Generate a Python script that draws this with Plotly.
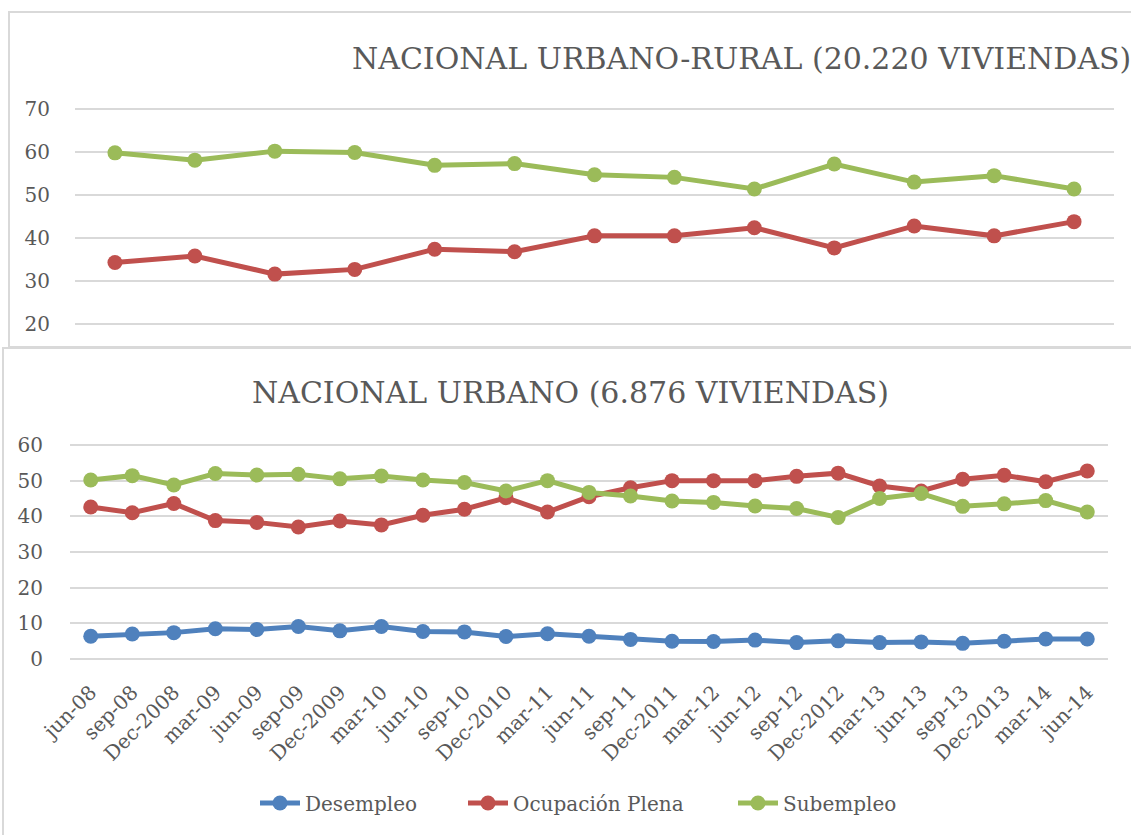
import plotly.graph_objects as go

W, H = 1131, 835

# ---------------- data ----------------
top_categories = ["jun-08", "Dec-2008", "jun-09", "Dec-2009", "jun-10", "Dec-2010",
                  "jun-11", "Dec-2011", "jun-12", "Dec-2012", "jun-13", "Dec-2013", "jun-14"]
top_ocupacion = [34.3, 35.8, 31.6, 32.7, 37.4, 36.8, 40.5, 40.5, 42.4, 37.7, 42.8, 40.5, 43.8]
top_subempleo = [59.8, 58.1, 60.2, 59.9, 56.9, 57.3, 54.7, 54.1, 51.4, 57.2, 53.0, 54.5, 51.4]

categories = ["jun-08", "sep-08", "Dec-2008", "mar-09", "jun-09", "sep-09", "Dec-2009",
              "mar-10", "jun-10", "sep-10", "Dec-2010", "mar-11", "jun-11", "sep-11",
              "Dec-2011", "mar-12", "jun-12", "sep-12", "Dec-2012", "mar-13", "jun-13",
              "sep-13", "Dec-2013", "mar-14", "jun-14"]
desempleo = [6.4, 7.0, 7.4, 8.5, 8.3, 9.1, 7.9, 9.1, 7.7, 7.6, 6.3, 7.1, 6.4, 5.5,
             5.0, 4.9, 5.3, 4.6, 5.1, 4.6, 4.8, 4.4, 5.0, 5.6, 5.6]
ocupacion = [42.6, 41.0, 43.6, 38.8, 38.3, 37.0, 38.7, 37.6, 40.3, 42.0, 45.2, 41.2, 45.5,
             48.0, 50.0, 50.0, 50.0, 51.2, 52.1, 48.5, 47.1, 50.4, 51.5, 49.7, 52.7]
subempleo = [50.2, 51.4, 48.8, 52.0, 51.6, 51.8, 50.5, 51.3, 50.2, 49.5, 47.1, 50.0, 46.7,
             45.7, 44.3, 43.9, 42.9, 42.2, 39.7, 45.0, 46.4, 42.8, 43.5, 44.4, 41.2]

top_title = "NACIONAL URBANO-RURAL (20.220 VIVIENDAS)"
bottom_title = "NACIONAL URBANO (6.876 VIVIENDAS)"
series_names = ["Desempleo", "Ocupación Plena", "Subempleo"]

# ---------------- style ----------------
BLUE, RED, GREEN = "#4F81BD", "#C0504D", "#9BBB59"
TXT = "#595959"
GRID = "#D9D9D9"
FONT = "DejaVu Serif"


def px(x):
    return x / W


def py(y):
    return 1 - y / H


fig = go.Figure()

# top chart traces
fig.add_trace(go.Scatter(x=top_categories, y=top_ocupacion, mode="lines+markers",
                         line=dict(color=RED, width=5), marker=dict(size=15, color=RED),
                         xaxis="x", yaxis="y", showlegend=False, name=series_names[1]))
fig.add_trace(go.Scatter(x=top_categories, y=top_subempleo, mode="lines+markers",
                         line=dict(color=GREEN, width=5), marker=dict(size=15, color=GREEN),
                         xaxis="x", yaxis="y", showlegend=False, name=series_names[2]))

# bottom chart traces, each with its own legend box
for vals, col, name, lg in [(desempleo, BLUE, series_names[0], "legend"),
                            (ocupacion, RED, series_names[1], "legend2"),
                            (subempleo, GREEN, series_names[2], "legend3")]:
    fig.add_trace(go.Scatter(x=categories, y=vals, mode="lines+markers", name=name,
                             line=dict(color=col, width=5), marker=dict(size=15, color=col),
                             xaxis="x2", yaxis="y2", legend=lg))

tickfont = dict(family=FONT, size=20, color=TXT)
legfont = dict(family=FONT, size=20, color=TXT)


def leg(xpix):
    return dict(orientation="h", x=px(xpix), xanchor="left", y=py(803), yanchor="middle",
                font=legfont, bgcolor="rgba(0,0,0,0)", itemwidth=40)


fig.update_layout(
    width=W, height=H, autosize=False,
    margin=dict(l=0, r=0, t=0, b=0, pad=0, autoexpand=False),
    paper_bgcolor="white", plot_bgcolor="rgba(0,0,0,0)",
    font=dict(family=FONT, color=TXT),
    xaxis=dict(domain=[px(75), px(1114)], range=[-0.5, 12.5], type="category",
               showticklabels=False, showgrid=False, zeroline=False, showline=False,
               anchor="y", automargin=False),
    yaxis=dict(domain=[py(328.3), py(104.7)], range=[19, 71], tickvals=[20, 30, 40, 50, 60, 70],
               showgrid=True, gridcolor=GRID, gridwidth=1.5, zeroline=False, showline=False,
               ticks="outside", ticklen=20, tickcolor="rgba(0,0,0,0)",
               tickfont=tickfont, anchor="x", automargin=False),
    xaxis2=dict(domain=[px(70), px(1108)], range=[-0.5, 24.5], type="category",
                tickangle=-45, tickfont=tickfont, showgrid=False, zeroline=False,
                showline=False, ticks="outside", ticklen=9, tickcolor="rgba(0,0,0,0)",
                anchor="y2", automargin=False),
    yaxis2=dict(domain=[py(662.6), py(441.4)], range=[-1, 61], tickvals=[0, 10, 20, 30, 40, 50, 60],
                showgrid=True, gridcolor=GRID, gridwidth=1.5, zeroline=True, zerolinecolor=GRID,
                zerolinewidth=1.5, showline=False, ticks="outside", ticklen=22,
                tickcolor="rgba(0,0,0,0)", tickfont=tickfont, anchor="x2", automargin=False),
    legend=leg(255),
    legend2=leg(463),
    legend3=leg(733),
    shapes=[
        dict(type="rect", xref="paper", yref="paper", x0=px(9), x1=px(1145), y0=py(347), y1=py(12),
             line=dict(color=GRID, width=2), fillcolor="white", layer="below"),
        dict(type="rect", xref="paper", yref="paper", x0=px(3), x1=px(1145), y0=py(845), y1=py(348),
             line=dict(color=GRID, width=2), fillcolor="white", layer="below"),
    ],
    annotations=[
        dict(text=top_title, xref="paper", yref="paper", x=px(350), y=py(59), xanchor="left",
             yanchor="middle", showarrow=False, font=dict(family=FONT, size=30, color=TXT)),
        dict(text=bottom_title, xref="paper", yref="paper", x=px(570), y=py(392), xanchor="center",
             yanchor="middle", showarrow=False, font=dict(family=FONT, size=30, color=TXT)),
    ],
)

fig.write_html("out.html", config={"responsive": False, "displayModeBar": False},
               post_script="document.body.style.margin='0px';document.body.style.overflow='hidden';")
